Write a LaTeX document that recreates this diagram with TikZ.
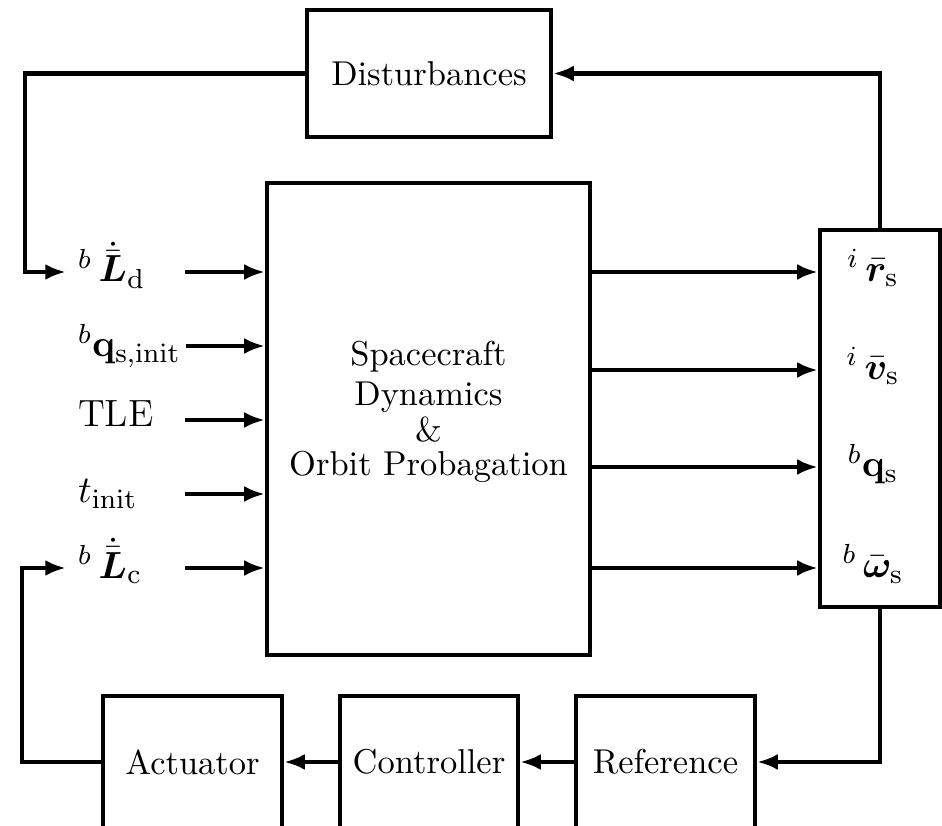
\documentclass[tikz,border=0pt]{standalone}
\usepackage{amsmath}
\usepackage{bm}
\usetikzlibrary{arrows.meta}

\newlength\pxu
\setlength\pxu{0.0102cm}

\tikzset{
    block/.style={draw, line width=1.2pt, align=center},
    sig/.style={line width=1.2pt, -{Latex[length=6pt, width=4.6pt]}},
    siglabel/.style={font=\fontsize{11}{13}\selectfont},
    inlabel/.style={siglabel, anchor=west},
}

\begin{document}
\begin{tikzpicture}[x=0.0102cm, y=-0.0102cm]
    \useasboundingbox (0, 0) rectangle (942, 826);

    % blocks
    \node [block, minimum width=244\pxu, minimum height=127\pxu] (dist) at (429, 73.5) {Disturbances};
    \node [block, minimum width=323\pxu, minimum height=472\pxu,
        label={[align=center, yshift=7\pxu]center:Spacecraft\\[-0.5pt]Dynamics\\[-1.5pt]\&\\[-2pt]Orbit Probagation}]
        (dyn) at (428.5, 419) {};
    \node [block, minimum width=120\pxu, minimum height=377\pxu] (states) at (880, 418.5) {};

    \node [block, minimum width=179\pxu, minimum height=132\pxu] (act) at (192.5, 762) {Actuator};
    \node [block, minimum width=178\pxu, minimum height=132\pxu] (ctrl) at (429, 762) {Controller};
    \node [block, minimum width=179\pxu, minimum height=132\pxu] (ref) at (665.5, 762) {Reference};

    % inputs
    \node [inlabel] (Ld) at (66, 265) {${}^{b}\,\dot{\bar{\bm{L}}}_{\mathrm{d}}$};
    \node [inlabel] (qinit) at (66, 346) {${}^{b}\mathbf{q}_{\mathrm{s,init}}$};
    \node [inlabel] (tle) at (66, 414) {TLE};
    \node [inlabel] (tinit) at (66, 494) {$t_{\mathrm{init}}$};
    \node [inlabel] (Lc) at (66, 561) {${}^{b}\,\dot{\bar{\bm{L}}}_{\mathrm{c}}$};

    \draw [sig] (185, 272) -- (dyn.west |- 0, 272);
    \draw [sig] ([xshift=-2pt]qinit.east) -- (dyn.west |- qinit.east);
    \draw [sig] (185, 420) -- (dyn.west |- 0, 420);
    \draw [sig] (185, 494) -- (dyn.west |- 0, 494);
    \draw [sig] (185, 568) -- (dyn.west |- 0, 568);

    % outputs
    \node [siglabel] (r) at (873, 268) {${}^{i}\,\bar{\bm{r}}_{\mathrm{s}}$};
    \node [siglabel] (v) at (873, 366) {${}^{i}\,\bar{\bm{v}}_{\mathrm{s}}$};
    \node [siglabel] (q) at (873, 464) {${}^{b}\mathbf{q}_{\mathrm{s}}$};
    \node [siglabel] (w) at (873, 564) {${}^{b}\,\bar{\bm{\omega}}_{\mathrm{s}}$};

    \draw [sig] (dyn.east |- 0, 272) -- (states.west |- 0, 272);
    \draw [sig] (dyn.east |- 0, 370) -- (states.west |- 0, 370);
    \draw [sig] (dyn.east |- 0, 467) -- (states.west |- 0, 467);
    \draw [sig] (dyn.east |- 0, 568) -- (states.west |- 0, 568);

    % loops
    \draw [sig] (states.north) |- (dist.east);
    \draw [sig] (dist.west) -- (25, 73.5) |- (Ld.west |- 0, 272);
    \draw [sig] (states.south) |- (ref.east);
    \draw [sig] (ref.west) -- (ctrl.east);
    \draw [sig] (ctrl.west) -- (act.east);
    \draw [sig] (act.west) -- (22, 762) |- (Lc.west |- 0, 568);
\end{tikzpicture}
\end{document}
